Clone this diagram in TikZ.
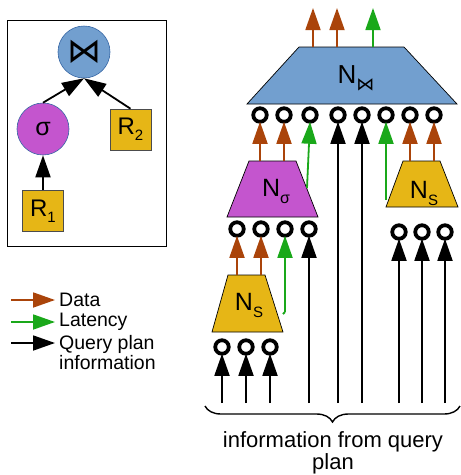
\documentclass[tikz,border=0pt]{standalone}
\usepackage{fontspec}
\setmainfont{Liberation Sans}
\newfontfamily\djv{DejaVu Sans}
\usetikzlibrary{arrows.meta,decorations.pathreplacing}
\definecolor{brownc}{RGB}{170,68,10}
\definecolor{greenc}{RGB}{26,168,26}
\definecolor{bluec}{RGB}{114,159,207}
\definecolor{blueb}{RGB}{52,101,164}
\definecolor{purplec}{RGB}{196,85,206}
\definecolor{yellowc}{RGB}{230,182,22}
\newcommand{\fs}[1]{\fontsize{#1}{#1}\selectfont}
\tikzset{
  tip/.style={-{Triangle[length=22pt,width=15pt]}},
  qarrow/.style={tip,draw=black,line width=1.8pt},
  darrow/.style={tip,draw=brownc,fill=brownc,line width=1.8pt},
  larrow/.style={tip,draw=greenc,fill=greenc,line width=1.8pt},
  ring/.style={circle,draw=black,line width=3.8pt,minimum size=13.5pt,inner sep=0pt,outer sep=0pt},
  trap/.style={draw=black,line width=0.7pt},
  rbox/.style={draw=black!70,fill=yellowc,line width=0.6pt,minimum width=41pt,minimum height=41pt,inner sep=0pt},
  opc/.style={circle,minimum size=52pt,inner sep=0pt,line width=0.6pt},
  lbl/.style={inner sep=0pt,anchor=center}
}
\begin{document}
\begin{tikzpicture}[x=1pt,y=-1pt]
\useasboundingbox (0,0) rectangle (461,475);
% ---------- left query plan box ----------
\draw[line width=1pt] (7,20) rectangle (166,246);
\node[opc,fill=bluec,draw=blueb] (j) at (84,52) {\djv\fs{34}⋈};
\node[opc,fill=purplec,draw=blueb] (s) at (43,129) {\fs{25}σ};
\node[rbox] (r2) at (130.5,129.5) {\fs{24}R\raisebox{-6pt}{\fs{15}2}};
\node[rbox] (r1) at (43,211) {\fs{24}R\raisebox{-6pt}{\fs{15}1}};
\draw[qarrow] (s.north) -- (j.south);
\draw[qarrow] (r2.north) -- (j.south);
\draw[qarrow] (r1.north) -- (s.south);
% ---------- legend ----------
\coordinate (ld1) at (11,300); \coordinate (ld2) at (55,300);
\coordinate (ll1) at (11,322); \coordinate (ll2) at (55,322);
\coordinate (lq1) at (11,343); \coordinate (lq2) at (55,343);
\draw[darrow] (ld1) -- (ld2);
\draw[larrow] (ll1) -- (ll2);
\draw[qarrow] (lq1) -- (lq2);
\node[lbl,anchor=west,font=\fs{19.5}] (tdata) at (59,300) {Data};
\node[lbl,anchor=west,font=\fs{19.5}] (tlat) at (59,322) {Latency};
\node[lbl,anchor=north west,align=left,font=\fontsize{19.5}{20}\selectfont] (tq) at (59,335) {Query plan\\information};
% ---------- trapezoids ----------
\draw[trap,fill=bluec] (299,47) -- (404,47) -- (457,104) -- (247,104) -- cycle;
\node[lbl] (nj) at (356,78) {\fs{26}N\raisebox{-7pt}{\djv\fs{18}⋈}};
\draw[trap,fill=purplec] (249,161) -- (296,161) -- (318,217) -- (227,217) -- cycle;
\node[lbl] (ns) at (276,191) {\fs{25}N\raisebox{-7pt}{\fs{16}σ}};
\draw[trap,fill=yellowc] (403,161) -- (440,161) -- (458,207) -- (386,207) -- cycle;
\node[lbl] (nr) at (424,193) {\fs{25}N\raisebox{-7pt}{\fs{15}S}};
\draw[trap,fill=yellowc] (228,275) -- (265,275) -- (283,332) -- (212,332) -- cycle;
\node[lbl] (nl) at (249,305) {\fs{25}N\raisebox{-7pt}{\fs{15}S}};
% ---------- rings ----------
\foreach \i/\x in {1/260,2/284,3/310,4/338,5/362,6/386,7/410,8/434}
  \node[ring] (a\i) at (\x,115) {};
\foreach \i/\x in {1/237,2/261,3/285,4/309}
  \node[ring] (b\i) at (\x,229) {};
\foreach \i/\x in {1/399,2/422,3/445}
  \node[ring] (c\i) at (\x,232) {};
\foreach \i/\x in {1/222,2/246,3/270}
  \node[ring] (d\i) at (\x,347) {};
% ---------- output arrows ----------
\coordinate (o1a) at (313,47); \coordinate (o1b) at (313,8);
\coordinate (o2a) at (337,47); \coordinate (o2b) at (337,8);
\coordinate (o3a) at (373,47); \coordinate (o3b) at (373,8);
\draw[darrow] (o1a) -- (o1b);
\draw[darrow] (o2a) -- (o2b);
\draw[larrow] (o3a) -- (o3b);
% ---------- into top rings ----------
\coordinate (s1) at (260,161); \coordinate (s2) at (284,161);
\coordinate (sg) at (307,188);
\coordinate (q4) at (338,403); \coordinate (q5) at (362,403);
\coordinate (rg) at (386,200);
\coordinate (r7) at (410,161); \coordinate (r8) at (434,161);
\draw[darrow] (s1) -- (a1.south);
\draw[darrow] (s2) -- (a2.south);
\draw[larrow] (sg) -- (a3.south);
\draw[qarrow] (q4) -- (a4.south);
\draw[qarrow] (q5) -- (a5.south);
\draw[larrow] (rg) -- (a6.south);
\draw[darrow] (r7) -- (a7.south);
\draw[darrow] (r8) -- (a8.south);
% ---------- into N_sigma rings ----------
\coordinate (l1) at (237,275); \coordinate (l2) at (261,275);
\coordinate (lg0) at (283,314); \coordinate (lg) at (285,312);
\coordinate (q9) at (309,403);
\draw[darrow] (l1) -- (b1.south);
\draw[darrow] (l2) -- (b2.south);
\draw[greenc,line width=1.8pt] (lg0) -- (lg);
\draw[larrow] (lg) -- (b3.south);
\draw[qarrow] (q9) -- (b4.south);
% ---------- into right N_S rings ----------
\coordinate (p1) at (399,403); \coordinate (p2) at (422,403); \coordinate (p3) at (445,403);
\draw[qarrow] (p1) -- (c1.south);
\draw[qarrow] (p2) -- (c2.south);
\draw[qarrow] (p3) -- (c3.south);
% ---------- into lower N_S rings ----------
\coordinate (m1) at (222,403); \coordinate (m2) at (246,403); \coordinate (m3) at (270,403);
\draw[qarrow] (m1) -- (d1.south);
\draw[qarrow] (m2) -- (d2.south);
\draw[qarrow] (m3) -- (d3.south);
% ---------- brace ----------
\coordinate (br1) at (460,406); \coordinate (br2) at (205,406);
\draw[line width=1.4pt,decorate,decoration={brace,amplitude=16pt}] (br1) -- (br2);
\node[lbl,align=center,anchor=north,font=\fontsize{22}{22}\selectfont] (info) at (333,431) {information from query\\plan};
\end{tikzpicture}
\end{document}
